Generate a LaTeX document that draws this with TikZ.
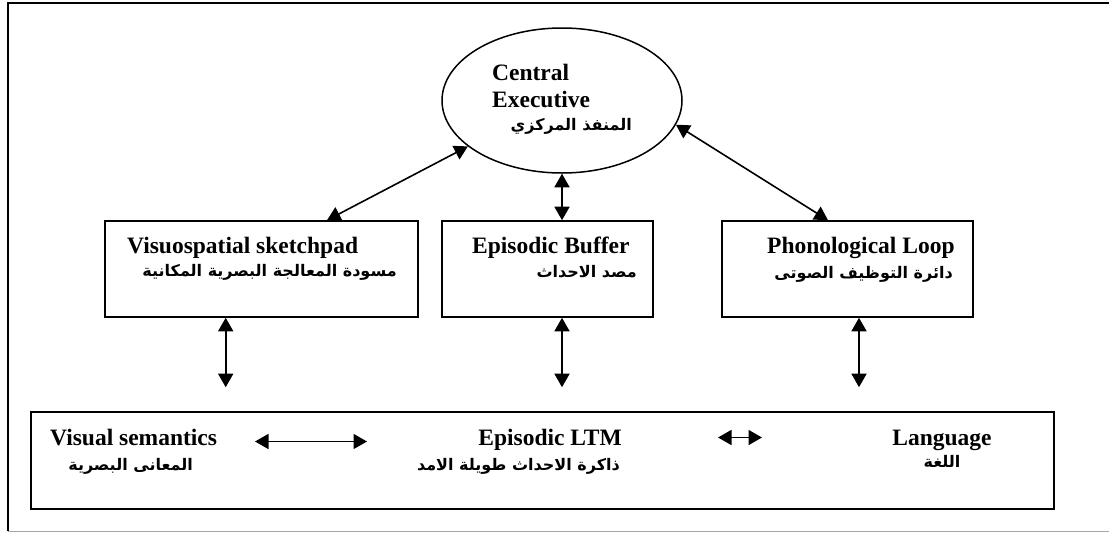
\documentclass[tikz,border=0pt]{standalone}
\usepackage{fontspec}
\setmainfont{Liberation Serif}
\newfontfamily\arabicfont[Script=Arabic]{DejaVu Sans}
\TeXXeTstate=1
\usetikzlibrary{shapes.geometric,arrows.meta}
\begin{document}
\begin{tikzpicture}[x=1pt,y=-1pt,
  en/.style={font=\fontsize{23.5}{26}\selectfont\bfseries, inner sep=0pt},
  ar/.style={font=\arabicfont\bfseries\fontsize{16}{19}\selectfont, inner sep=0pt},
  box/.style={draw, line width=1.6pt, inner sep=0pt},
  arr/.style={{Triangle[width=15pt,length=13.5pt]}-{Triangle[width=15pt,length=13.5pt]}, line width=1.6pt}]
\useasboundingbox (0,0) rectangle (1109,533);
% outer frame
\draw[line width=2.2pt] (8,531) -- (8,3) -- (1109,3);
\draw[black!35, line width=1pt] (8,531.5) -- (1109,531.5);
% shapes
\node[draw, ellipse, line width=1.5pt, minimum width=240pt, minimum height=145pt, inner sep=0pt] (ce) at (562,100.5) {};
\node[box, minimum width=313pt, minimum height=96pt] (vs) at (261.5,269) {};
\node[box, minimum width=211pt, minimum height=96pt] (eb) at (547.5,269) {};
\node[box, minimum width=251pt, minimum height=96pt] (pl) at (847.5,269) {};
\node[box, minimum width=1023pt, minimum height=97pt] (ltm) at (542.5,460.5) {};
% texts
\node[en, anchor=base west] (ce1) at (492,80) {Central};
\node[en, anchor=base west] (ce2) at (492,107) {Executive};
\node[ar, anchor=base east] (ce3) at (632,130.5) {\beginR المنفذ المركزي\endR};
\node[en, anchor=base west] (vs1) at (127,253) {Visuospatial sketchpad};
\node[ar, anchor=base east] (vs2) at (397,276) {\beginR مسودة المعالجة البصرية المكانية\endR};
\node[en, anchor=base west] (eb1) at (472,253) {Episodic Buffer};
\node[ar, anchor=base east] (eb2) at (637,277) {\beginR مصد الاحداث\endR};
\node[en, anchor=base west] (pl1) at (767,253) {Phonological Loop};
\node[ar, anchor=base east] (pl2) at (953,278) {\beginR دائرة التوظيف الصوتى\endR};
\node[en, anchor=base west] (vsem1) at (50,445) {Visual semantics};
\node[ar, anchor=base east] (vsem2) at (193,470) {\beginR المعانى البصرية\endR};
\node[en, anchor=base east] (eltm1) at (622,445) {Episodic LTM};
\node[ar, anchor=base east] (eltm2) at (620,470) {\beginR ذاكرة الاحداث طويلة الامد\endR};
\node[en, anchor=base] (lang1) at (942,445) {Language};
\node[ar, anchor=base] (lang2) at (942,467) {\beginR اللغة\endR};
% connectors
\draw[arr] (ce.206.6) -- ([xshift=65.5pt]vs.north);
\draw[arr] (ce.south) -- (ce.south |- eb.north);
\draw[arr] (ce.348.6) -- ([xshift=-19.5pt]pl.north);
\draw[arr, shorten >=24pt] ([xshift=-35.8pt]vs.south) -- ([xshift=-35.8pt]vs.south |- ltm.north);
\draw[arr, shorten >=24pt] (ce.south |- eb.south) -- (ce.south |- ltm.north);
\draw[arr, shorten >=24pt] ([xshift=11.5pt]pl.south) -- ([xshift=11.5pt]pl.south |- ltm.north);
\coordinate (h1) at (255,441.5);
\coordinate (h2) at (367,441.5);
\coordinate (h3) at (718,437.5);
\coordinate (h4) at (762,437.5);
\draw[arr] (h1) -- (h2);
\draw[arr] (h3) -- (h4);
\end{tikzpicture}
\end{document}
